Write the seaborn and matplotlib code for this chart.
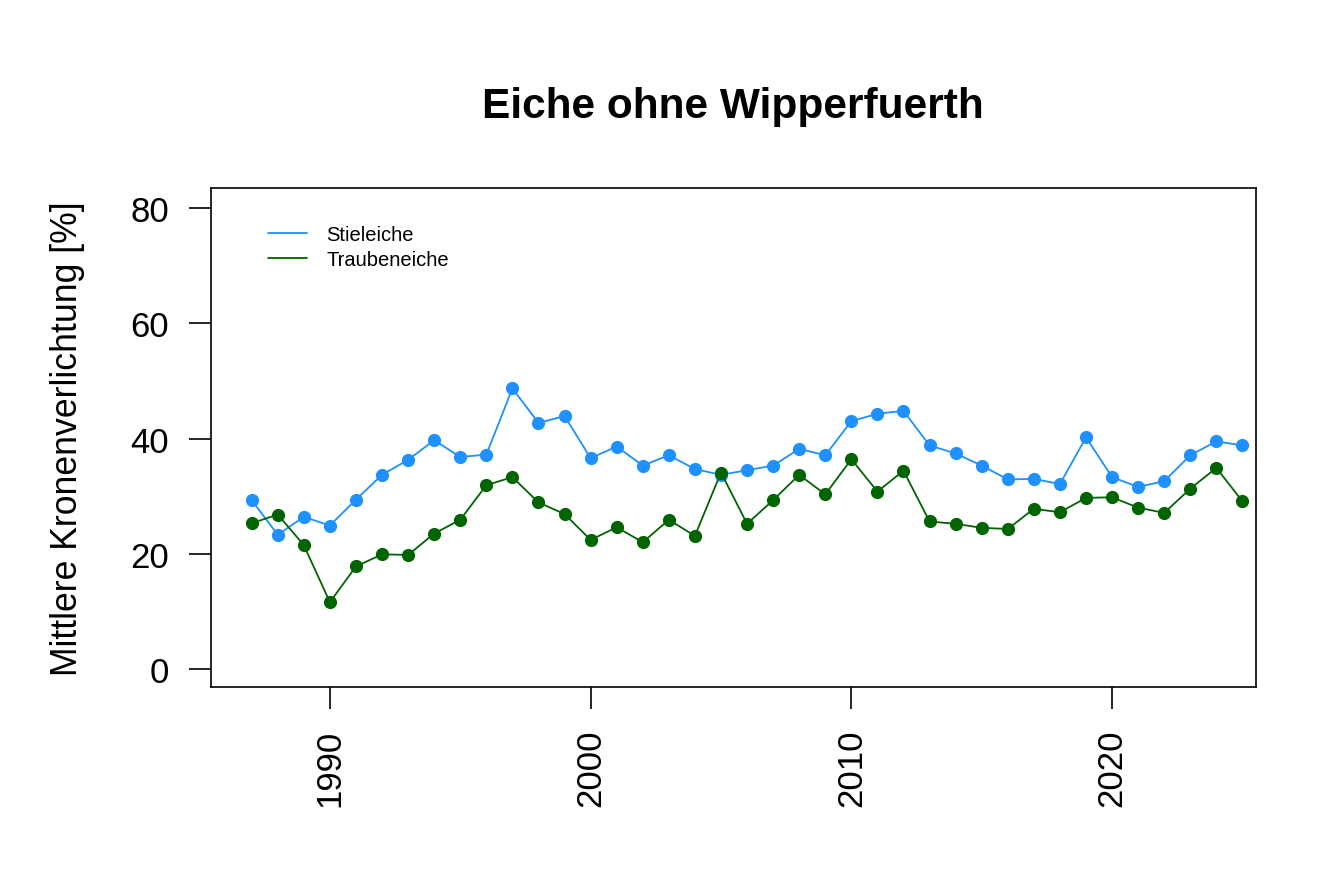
import pandas as pd
import matplotlib
matplotlib.use("Agg")
import matplotlib.pyplot as plt
from matplotlib.lines import Line2D
import seaborn as sns

# data
years = list(range(1987, 2026))
stieleiche = [29.3, 23.3, 26.4, 24.9, 29.4, 33.7, 36.3, 39.7, 36.8, 37.2,
              48.7, 42.7, 43.9, 36.6, 38.6, 35.3, 37.1, 34.7, 33.7, 34.5,
              35.3, 38.2, 37.1, 43.0, 44.3, 44.8, 38.8, 37.4, 35.3, 32.9,
              33.0, 32.1, 40.2, 33.3, 31.6, 32.6, 37.1, 39.5, 38.8]
traubeneiche = [25.3, 26.8, 21.5, 11.6, 17.8, 19.9, 19.8, 23.5, 25.9, 31.9,
                33.3, 28.9, 26.9, 22.4, 24.6, 22.0, 25.9, 23.1, 34.1, 25.2,
                29.3, 33.7, 30.3, 36.4, 30.8, 34.4, 25.6, 25.2, 24.5, 24.3,
                27.8, 27.2, 29.7, 29.8, 28.0, 27.1, 31.3, 34.9, 29.1]
species = ["Stieleiche", "Traubeneiche"]
colors = {"Stieleiche": "#1E90FF", "Traubeneiche": "#006400"}
y_ticks = [0, 20, 40, 60, 80]
x_ticks = [1990, 2000, 2010, 2020]

df = pd.DataFrame({
    "Jahr": years * 2,
    "Wert": stieleiche + traubeneiche,
    "Art": ["Stieleiche"] * len(years) + ["Traubeneiche"] * len(years),
})

sns.set_style("white")
plt.rcParams["font.family"] = ["Liberation Sans", "DejaVu Sans"]
plt.rcParams.update({"text.color": "black", "axes.labelcolor": "black",
                     "xtick.color": "black", "ytick.color": "black"})

fig = plt.figure(figsize=(13.2, 8.78), dpi=100)
ax = fig.add_axes([211 / 1320, 1 - 688 / 878, 1045 / 1320, 499 / 878])

sns.lineplot(data=df, x="Jahr", y="Wert", hue="Art", palette=colors,
             marker="o", markersize=9.5, markeredgewidth=0, linewidth=1.3,
             ax=ax, legend=False)

ax.set_xlim(1985.44, 2025.52)
ax.set_ylim(-3.12, 83.47)
ax.set_xticks(x_ticks)
ax.set_yticks(y_ticks)
ax.set_xticklabels([str(t) for t in x_ticks], rotation=90, fontsize=25)
ax.set_yticklabels([str(t) for t in y_ticks], fontsize=25)
ax.tick_params(axis="both", direction="out", length=16, width=1.2,
               color="black", pad=14, left=True, bottom=True)
for s in ax.spines.values():
    s.set_visible(True)
    s.set_color("black")
    s.set_linewidth(1.2)

ax.set_xlabel("")
ax.set_ylabel("Mittlere Kronenverlichtung [%]", fontsize=25.7, labelpad=33)
fig.text(0.555, 1 - 107 / 878, "Eiche ohne Wipperfuerth", ha="center",
         va="center", fontsize=30.5, fontweight="bold")

handles = [Line2D([0], [0], color=colors[s], lw=1.3) for s in species]
ax.legend(handles, species, loc="upper left", bbox_to_anchor=(0.0545, 0.925),
          frameon=False, fontsize=14.5, handlelength=1.95, handletextpad=0.95,
          borderpad=0, borderaxespad=0, labelspacing=0.3)

fig.savefig("out.png", dpi=100)
